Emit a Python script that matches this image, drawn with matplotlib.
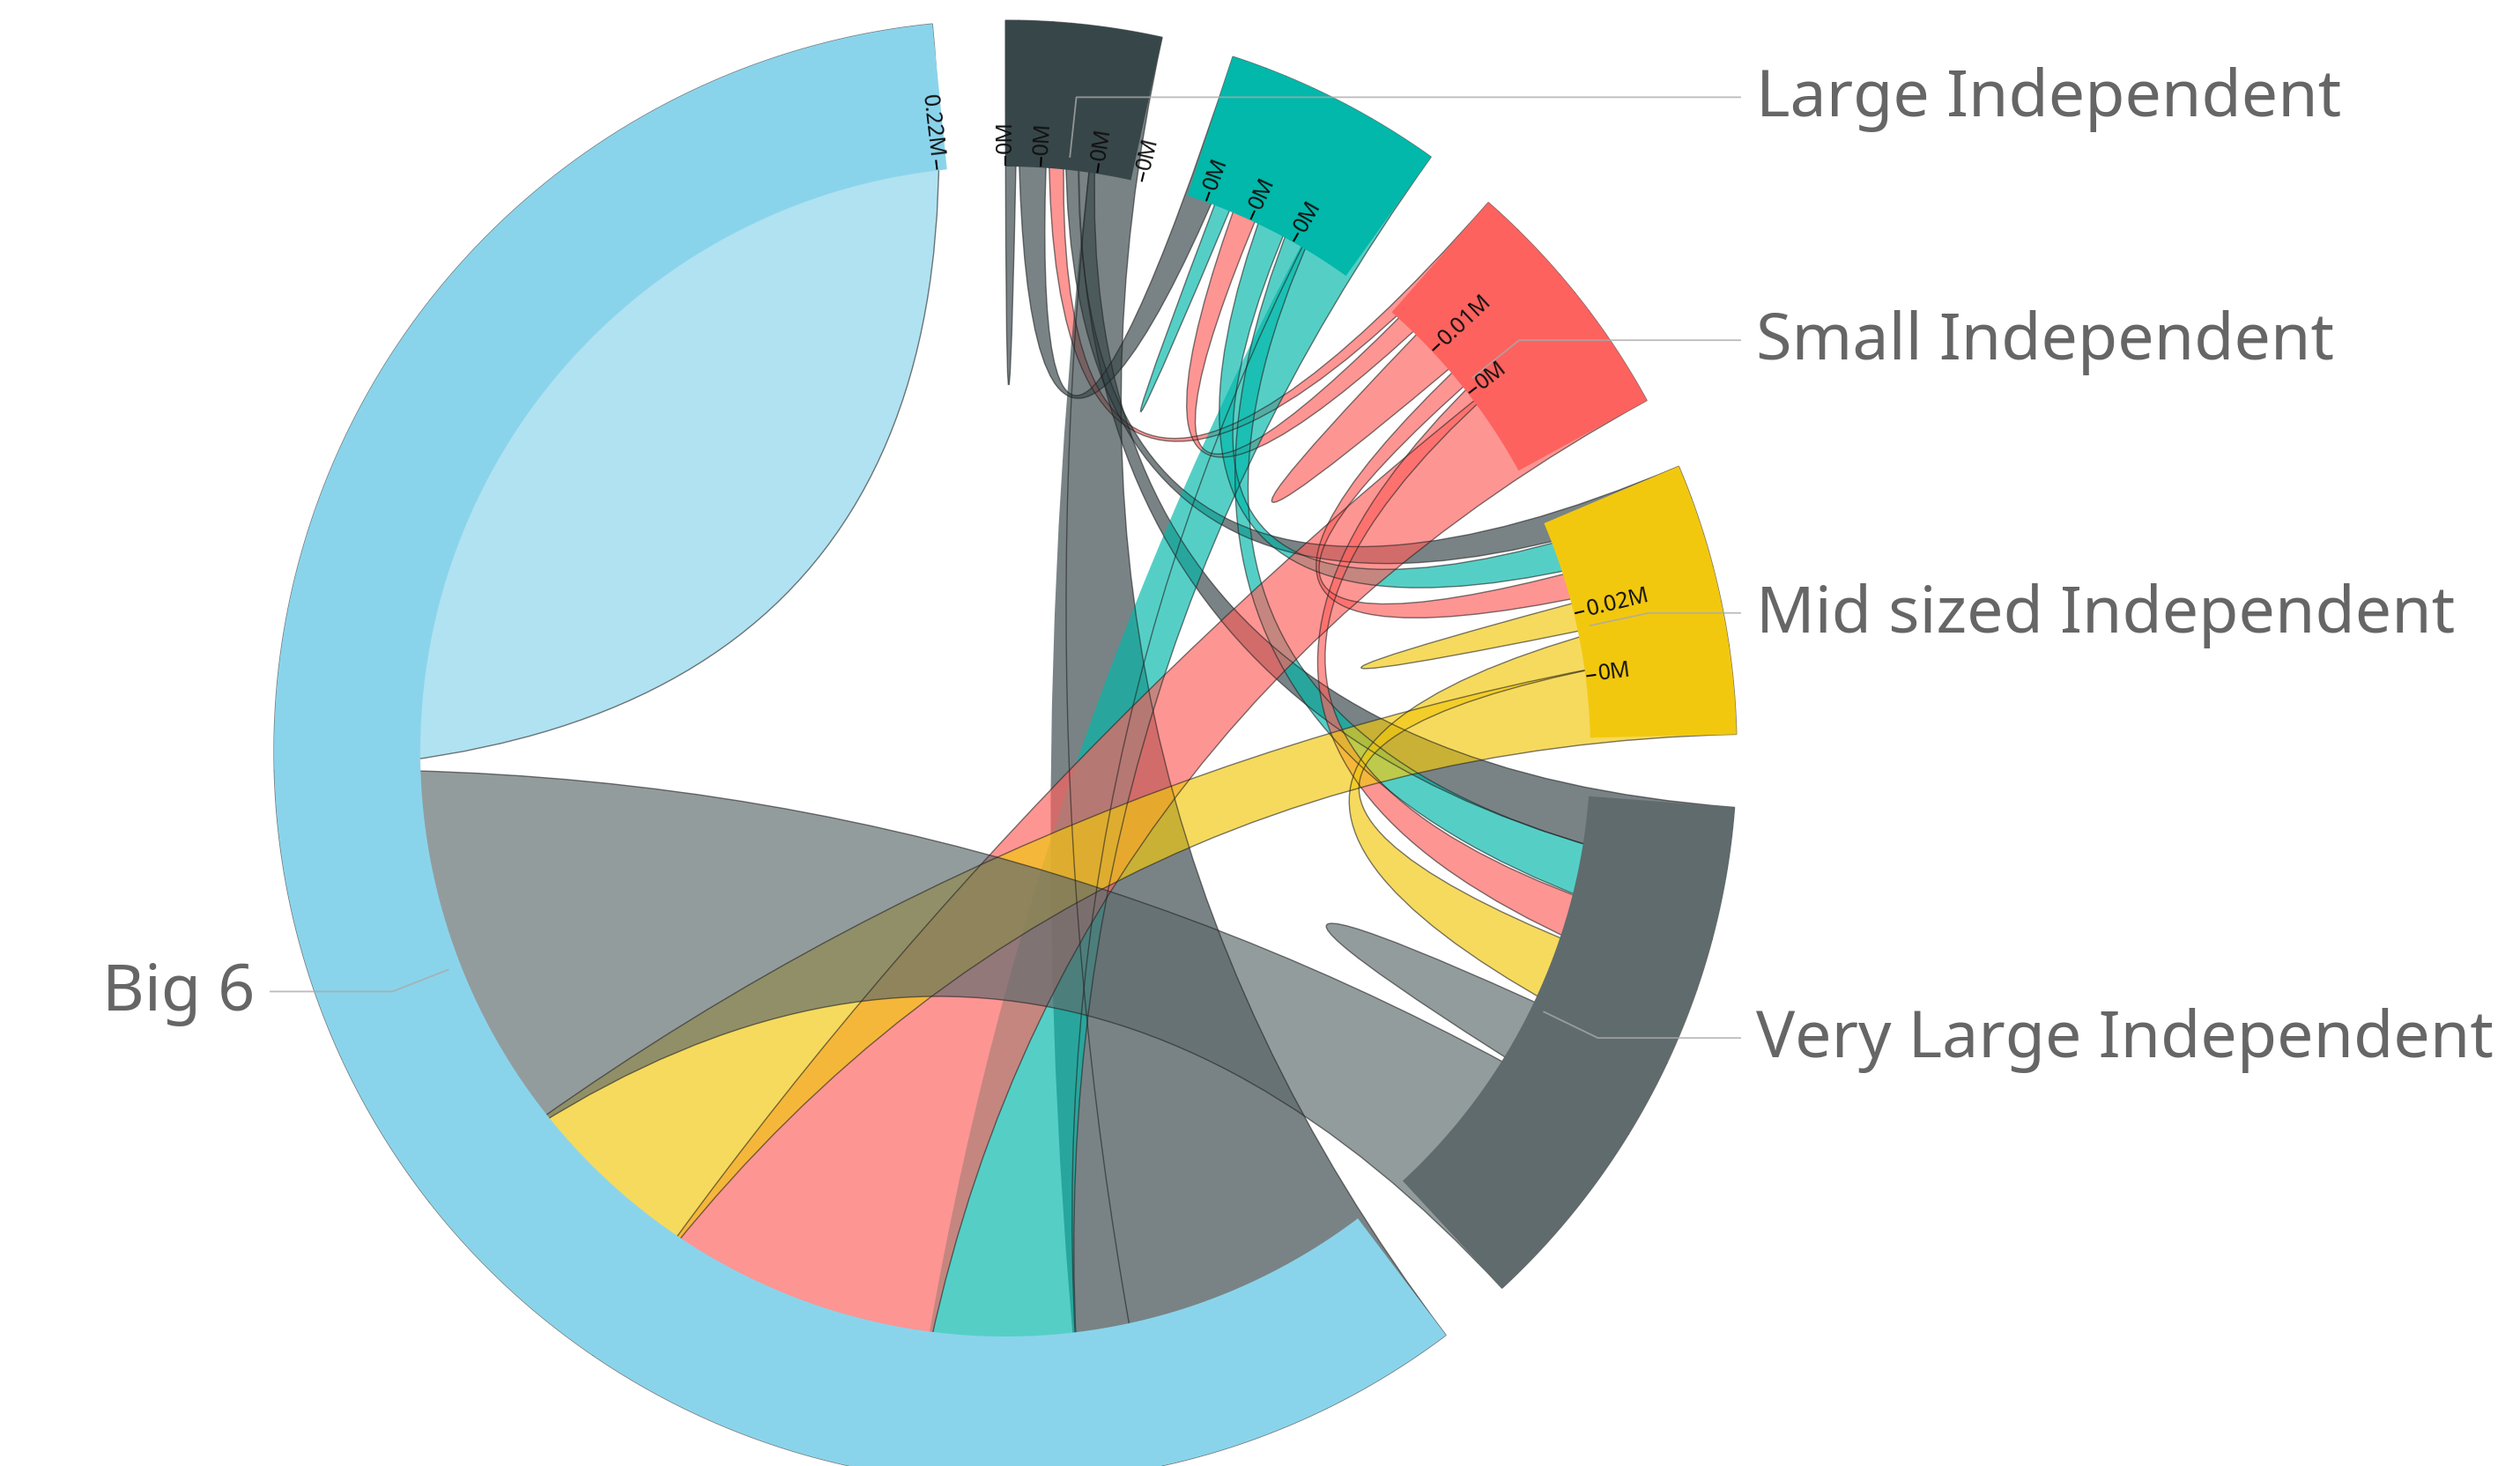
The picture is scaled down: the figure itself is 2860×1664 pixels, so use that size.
import numpy as np
import matplotlib.pyplot as plt
from matplotlib.path import Path
from matplotlib.patches import PathPatch

# flows between publisher groups, in thousands (row = group, column = partner group)
# column order: Large Independent, (teal group, label hidden), Small Independent,
#               Mid sized Independent, Very Large Independent, Big 6
large_ind = [1.1, 2.8, 1.5, 1.3, 1.6, 4.6]
teal_grp = [2.9, 1.7, 2.5, 2.9, 2.4, 5.8]
small_ind = [1.2, 2.1, 5.0, 1.9, 1.9, 8.7]
mid_ind = [2.8, 3.1, 2.7, 3.0, 3.6, 7.3]
vlarge_ind = [5.7, 5.2, 4.3, 6.5, 6.6, 16.3]
big6 = [31.9, 14.7, 27.7, 18.4, 38.0, 89.3]

labels = ["Large Independent", None, "Small Independent",
          "Mid sized Independent", "Very Large Independent", "Big 6"]
colors = ["#374649", "#01B8AA", "#FD625E", "#F2C80F", "#5F6B6D", "#8AD4EB"]

# ticks: group, position from group start (thousands), text
tick_groups = [5, 0, 0, 0, 0, 1, 1, 1, 2, 2, 3, 3]
tick_offsets = [219.0, 0.0, 3.6, 9.4, 14.0, 2.0, 6.9, 11.8, 5.7, 11.4, 9.7, 16.2]
tick_texts = ["0.22M", "0M", "0M", "0M", "0M", "0M", "0M", "0M",
              "0.01M", "0M", "0.02M", "0M"]

fig = plt.figure(figsize=(28.6, 16.64), dpi=100)
ax = fig.add_axes([0, 0, 1, 1])
ax.set_xlim(0, 2860)
ax.set_ylim(1664, 0)
ax.axis('off')

cx, cy = 1141, 853
r_out = 830
r_in = 0.8 * r_out
r_chord = r_out
pad = 0.1


def pt(a, r):
    return (cx + r * np.sin(a), cy - r * np.cos(a))


def arc_pts(a0, a1, r):
    t = np.linspace(a0, a1, int(abs(a1 - a0) / 0.005) + 2)
    return [pt(a, r) for a in t]


def ribbon(s, t, r):
    s0, s1 = s
    t0, t1 = t
    p = arc_pts(s0, s1, r)
    verts = list(p)
    codes = [Path.MOVETO] + [Path.LINETO] * (len(p) - 1)
    if s != t:
        verts += [(cx, cy), pt(t0, r)]
        codes += [Path.CURVE3, Path.CURVE3]
        p = arc_pts(t0, t1, r)[1:]
        verts += p
        codes += [Path.LINETO] * len(p)
    verts += [(cx, cy), pt(s0, r), pt(s0, r)]
    codes += [Path.CURVE3, Path.CURVE3, Path.CLOSEPOLY]
    return Path(verts, codes)


flows = np.array([large_ind, teal_grp, small_ind, mid_ind, vlarge_ind, big6])
n = len(flows)
k = (2 * np.pi - pad * n) / flows.sum()

g_start, g_end, sub = [], [], {}
x = 0.0
for i in range(n):
    g_start.append(x)
    for j in range(n):
        sub[i, j] = (x, x + flows[i][j] * k)
        x += flows[i][j] * k
    g_end.append(x)
    x += pad

# chords, coloured by the smaller end
for i in range(n):
    for j in range(i, n):
        c = colors[i] if flows[i][j] < flows[j][i] else colors[j]
        path = ribbon(sub[i, j], sub[j, i], r_chord)
        ax.add_patch(PathPatch(path, facecolor=c, alpha=0.67,
                               edgecolor='none', zorder=1))
        ax.add_patch(PathPatch(path, facecolor='none', edgecolor='#222222',
                               lw=1.0, alpha=0.6, zorder=1.5))

# group arcs
for i in range(n):
    outer = arc_pts(g_start[i], g_end[i], r_out)
    inner = arc_pts(g_end[i], g_start[i], r_in)
    ax.add_patch(plt.Polygon(outer + inner, closed=True, facecolor=colors[i],
                             edgecolor='none', zorder=2))

# ticks
for g, off, txt in zip(tick_groups, tick_offsets, tick_texts):
    a = g_start[g] + off * k
    p0, p1 = pt(a, r_in + 2), pt(a, r_in + 11)
    ax.plot([p0[0], p1[0]], [p0[1], p1[1]], color='black', lw=1.5, zorder=3)
    deg = np.degrees(a)
    if deg < 180:
        rot, ha = 90 - deg, 'left'
    else:
        rot, ha = 270 - deg, 'right'
    tx, ty = pt(a, r_in + 15)
    ax.text(tx, ty, txt, rotation=rot, rotation_mode='anchor', ha=ha,
            va='center', fontsize=18, family='Noto Sans', color='#111111',
            zorder=3)

# group labels with leader lines
for i, name in enumerate(labels):
    if not name:
        continue
    mid = (g_start[i] + g_end[i]) / 2
    xa, ya = pt(mid, r_in + 15)
    x0, y0 = pt(mid, (r_in + r_out) / 2)
    side = 1 if np.sin(mid) > 0 else -1
    ax.plot([xa, x0, cx + side * (r_out + 4)], [ya, y0, y0], color='#aaaaaa',
            lw=1.3, alpha=0.8, zorder=4)
    ax.text(cx + side * (r_out + 22), y0 + 3, name,
            ha='left' if side > 0 else 'right', va='center',
            fontsize=53, family='Noto Sans', color='#666666', zorder=4)

fig.savefig('out.png', dpi=100, facecolor='white')
